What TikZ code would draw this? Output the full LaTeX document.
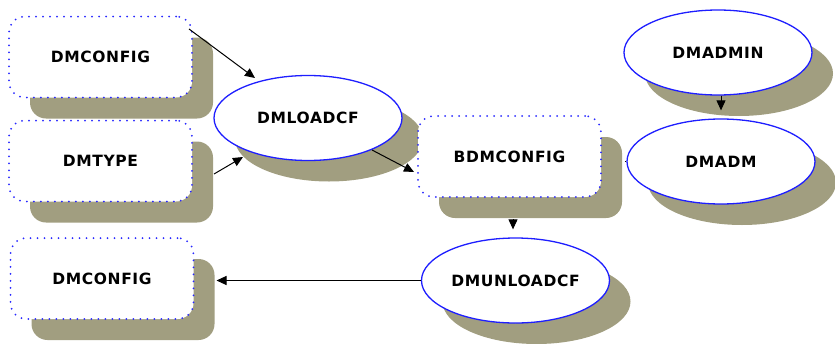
\documentclass[tikz,border=0pt]{standalone}
\usepackage{fontspec}
\setmainfont{DejaVu Sans}
\newfontfamily\labfont[LetterSpace=4]{DejaVu Sans}
\usetikzlibrary{shapes.geometric,shadows,calc,arrows.meta}
\definecolor{shadowc}{RGB}{161,158,128}
\definecolor{dotblue}{RGB}{40,40,255}
\definecolor{ellblue}{RGB}{30,30,255}
\begin{document}
\begin{tikzpicture}[x=1pt,y=-1pt,
  sh/.style={drop shadow={shadow xshift=21pt,shadow yshift=-21pt,fill=shadowc,opacity=1}},
  labtxt/.style={font=\labfont\bfseries\fontsize{15.5}{18}\selectfont},
  boxnode/.style={sh, labtxt, rectangle, rounded corners=16pt, draw=dotblue, line width=2pt,
    dash pattern=on 0pt off 7pt, line cap=round, fill=white,
    minimum width=183pt, minimum height=81pt, inner sep=0pt},
  ellnode/.style={sh, labtxt, ellipse, draw=ellblue, line width=1.3pt, fill=white,
    minimum width=188pt, minimum height=85pt, inner sep=0pt},
  arr/.style={-{Triangle[length=10pt,width=9pt]}, line width=1pt, black},
  ln/.style={line width=1pt, black}
]
\useasboundingbox (0,0) rectangle (835,343);
\node[boxnode] (cfg1) at (100.5,57) {DMCONFIG};
\node[boxnode] (type) at (100.5,161) {DMTYPE};
\node[boxnode] (cfg3) at (102,278.5) {DMCONFIG};
\node[ellnode] (load) at (308,118) {DMLOADCF};
\node[boxnode] (bdm) at (509.5,156.5) {BDMCONFIG};
\node[ellnode] (dmadmin) at (718,52.5) {DMADMIN};
\node[ellnode] (dmadm) at (721,161.5) {DMADM};
\node[ellnode] (dmun) at (515.5,280.5) {DMUNLOADCF};
\coordinate (c3e) at ($(cfg3.east)+(22,0)$);
\coordinate (bse) at ($(bdm.east)+(23,0)$);
\draw[arr] ($(cfg1.east)+(-4,-28)$) -- ($(load.center)+(-53,-40)$);
\draw[arr] ($(type.east)+(21,13)$) -- ($(load.center)+(-65,39)$);
\draw[arr] ($(load.center)+(64,32)$) -- ($(bdm.west)+(-3,15.5)$);
\draw[arr] ($(bdm.south)+(3.5,21)$) -- ($(dmun.north)+(-2.5,-8)$);
\draw[arr] ($(dmadmin.south)+(3,0)$) -- ($(dmadm.north)+(0,-8)$);
\draw[arr] (dmun.west) -- (dmun.west -| c3e);
\draw[ln] (dmadm.west) -- (dmadm.west -| bse);
\end{tikzpicture}
\end{document}
